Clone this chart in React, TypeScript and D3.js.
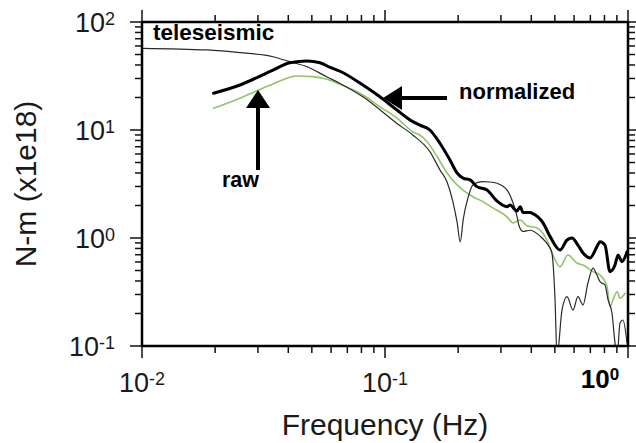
import React from "react";
import * as d3 from "d3";

// Moment spectra (N-m, x1e18) against frequency (Hz)
const teleFreq = [0.01, 0.0185, 0.0253, 0.0346, 0.0406, 0.0478, 0.0577, 0.0653, 0.0811, 0.112, 0.13, 0.153, 0.168, 0.18, 0.19, 0.198, 0.204, 0.21, 0.22, 0.23, 0.2506, 0.27, 0.289, 0.318, 0.3365, 0.349, 0.356, 0.37, 0.395, 0.443, 0.469, 0.486, 0.5008, 0.5105, 0.535, 0.561, 0.594, 0.622, 0.653, 0.684, 0.718, 0.745, 0.767, 0.804, 0.828, 0.859, 0.884, 0.902, 0.927, 0.953, 0.991];
const teleMoment = [57.1, 55.1, 52.0, 47.7, 42.9, 38.5, 31.0, 27.0, 20.3, 11.5, 9.0, 6.3, 4.3, 3.3, 2.2, 1.4, 0.92, 1.5, 2.4, 3.1, 3.32, 3.3, 3.21, 2.78, 2.11, 1.6, 1.3, 1.15, 1.18, 1.0, 0.86, 0.73, 0.27, 0.08, 0.215, 0.286, 0.215, 0.286, 0.24, 0.383, 0.527, 0.454, 0.394, 0.367, 0.267, 0.202, 0.107, 0.08, 0.163, 0.174, 0.107];

const normFreq = [0.0197, 0.0253, 0.0346, 0.0406, 0.0478, 0.054, 0.0595, 0.0653, 0.0811, 0.0953, 0.112, 0.1268, 0.139, 0.153, 0.168, 0.185, 0.198, 0.2095, 0.224, 0.239, 0.263, 0.289, 0.318, 0.327, 0.349, 0.36, 0.37, 0.395, 0.406, 0.447, 0.478, 0.525, 0.561, 0.588, 0.622, 0.653, 0.698, 0.745, 0.767, 0.804, 0.843, 0.884, 0.91, 0.944, 0.991];
const normMoment = [21.9, 26.1, 35.9, 42.0, 43.5, 42.0, 38.0, 35.0, 26.1, 20.3, 15.3, 12.4, 11.1, 10.0, 7.58, 5.28, 4.0, 3.59, 3.45, 2.99, 2.78, 2.2, 1.95, 2.02, 1.78, 1.95, 1.72, 1.72, 1.68, 1.38, 1.03, 0.774, 0.958, 1.0, 0.861, 0.726, 0.653, 0.832, 0.925, 0.861, 0.488, 0.562, 0.696, 0.604, 0.747];

const rawFreq = [0.0197, 0.0253, 0.0297, 0.0346, 0.0435, 0.0506, 0.0577, 0.0653, 0.0811, 0.0953, 0.112, 0.13, 0.139, 0.149, 0.164, 0.18, 0.198, 0.2095, 0.23, 0.253, 0.278, 0.318, 0.3365, 0.36, 0.384, 0.422, 0.464, 0.491, 0.525, 0.566, 0.616, 0.653, 0.718, 0.767, 0.82, 0.843, 0.867, 0.902, 0.927, 0.973];
const rawMoment = [15.9, 19.7, 23.1, 26.7, 31.6, 31.2, 29.5, 26.5, 21.1, 16.4, 12.9, 9.64, 8.99, 7.79, 5.66, 4.0, 3.1, 2.78, 2.41, 2.17, 1.9, 1.57, 1.38, 1.47, 1.3, 1.24, 0.958, 0.696, 0.542, 0.696, 0.587, 0.562, 0.488, 0.454, 0.354, 0.231, 0.267, 0.318, 0.277, 0.308];

const xDecades = [-2, -1, 0];
const yDecades = [-1, 0, 1, 2];

const W = 636;
const H = 443;
const M = { left: 142, right: 8, top: 22, bottom: 97 };

export default function App() {
  const x = d3.scaleLog().domain([0.01, 1]).range([M.left, W - M.right]);
  const y = d3.scaleLog().domain([0.1, 100]).range([H - M.bottom, M.top]);
  const [x0, x1] = x.range();
  const [y0, y1] = y.range(); // y0 bottom, y1 top

  const line = (fs: number[], vs: number[]) =>
    d3
      .line<number>()
      .x((_, i) => x(fs[i]))
      .y((v) => y(v))
      .curve(d3.curveMonotoneX)(vs) || "";

  // log minor/major ticks
  const xTicks: { v: number; major: boolean }[] = [];
  xDecades.forEach((d) => {
    for (let k = 1; k <= 9; k++) {
      const v = k * Math.pow(10, d);
      if (v >= 0.01 - 1e-9 && v <= 1 + 1e-9) xTicks.push({ v, major: k === 1 });
    }
  });
  const yTicks: { v: number; major: boolean }[] = [];
  yDecades.forEach((d) => {
    for (let k = 1; k <= 9; k++) {
      const v = k * Math.pow(10, d);
      if (v >= 0.1 - 1e-9 && v <= 100 + 1e-9) yTicks.push({ v, major: k === 1 });
    }
  });

  const font = "'Liberation Sans', Arial, Helvetica, sans-serif";
  const majorLen = 12;
  const minorLen = 7;

  return (
    <svg
      width={W}
      height={H}
      style={{ position: "absolute", left: 0, top: 0, background: "#fff" }}
      fontFamily={font}
    >
      <defs>
        <clipPath id="plot">
          <rect x={x0} y={y1} width={x1 - x0} height={y0 - y1} />
        </clipPath>
      </defs>

      {/* ticks on all four sides, pointing outward */}
      <g stroke="#111" strokeWidth={1.5}>
        {xTicks.map((t, i) => (
          <g key={"xt" + i}>
            <line x1={x(t.v)} x2={x(t.v)} y1={y0} y2={y0 + (t.major ? majorLen : minorLen)} />
            <line x1={x(t.v)} x2={x(t.v)} y1={y1} y2={y1 - (t.major ? majorLen : minorLen)} />
          </g>
        ))}
        {yTicks.map((t, i) => (
          <g key={"yt" + i}>
            <line y1={y(t.v)} y2={y(t.v)} x1={x0} x2={x0 - (t.major ? majorLen : minorLen)} />
            <line y1={y(t.v)} y2={y(t.v)} x1={x1} x2={x1 + (t.major ? majorLen : minorLen)} />
          </g>
        ))}
      </g>

      {/* spectra */}
      <g clipPath="url(#plot)" fill="none" strokeLinejoin="round" strokeLinecap="round">
        <path d={line(rawFreq, rawMoment)} stroke="#8fc56a" strokeWidth={1.6} />
        <path d={line(teleFreq, teleMoment)} stroke="#2a2a2a" strokeWidth={1.2} />
        <path d={line(normFreq, normMoment)} stroke="#000" strokeWidth={3} />
      </g>

      {/* frame */}
      <rect x={x0} y={y1} width={x1 - x0} height={y0 - y1} fill="none" stroke="#000" strokeWidth={2.5} />

      {/* y tick labels */}
      {yDecades.map((d) => (
        <text key={"yl" + d} x={x0 - 27} y={y(Math.pow(10, d)) + 10} textAnchor="end" fontSize={27} fill="#1a1a1a">
          10
          <tspan fontSize={18} dy={-7}>{String(d)}</tspan>
        </text>
      ))}

      {/* x tick labels */}
      {xDecades
        .filter((d) => d < 0)
        .map((d) => (
          <text key={"xl" + d} x={x(Math.pow(10, d))} y={y0 + 46} textAnchor="middle" fontSize={27} fill="#1a1a1a">
            10
            <tspan fontSize={18} dy={-7}>{String(d)}</tspan>
          </text>
        ))}
      <text x={x(1) - 28} y={y0 + 42} textAnchor="middle" fontSize={26} fontWeight="bold" fill="#000">
        10
        <tspan fontSize={17} dy={-8}>0</tspan>
      </text>

      {/* axis titles */}
      <text x={(x0 + x1) / 2} y={435} textAnchor="middle" fontSize={30} fill="#1a1a1a">
        Frequency (Hz)
      </text>
      <text
        transform={`translate(36, ${(y0 + y1) / 2}) rotate(-90)`}
        textAnchor="middle"
        fontSize={30}
        fill="#1a1a1a"
      >
        N-m (x1e18)
      </text>

      {/* annotations */}
      <text x={153} y={40} fontSize={22.5} fontWeight="bold" fill="#000">teleseismic</text>
      <text x={459} y={99} fontSize={22} fontWeight="bold" fill="#000">normalized</text>
      <text x={222} y={187} fontSize={21.5} fontWeight="bold" fill="#000">raw</text>

      {/* arrow to normalized curve */}
      <line x1={400} y1={98} x2={447} y2={98} stroke="#000" strokeWidth={4} />
      <polygon points="383,98 402,86 402,110" fill="#000" />

      {/* arrow to raw curve */}
      <line x1={258} y1={106} x2={258} y2={170} stroke="#000" strokeWidth={4} />
      <polygon points="258,90 246,108 270,108" fill="#000" />
    </svg>
  );
}
